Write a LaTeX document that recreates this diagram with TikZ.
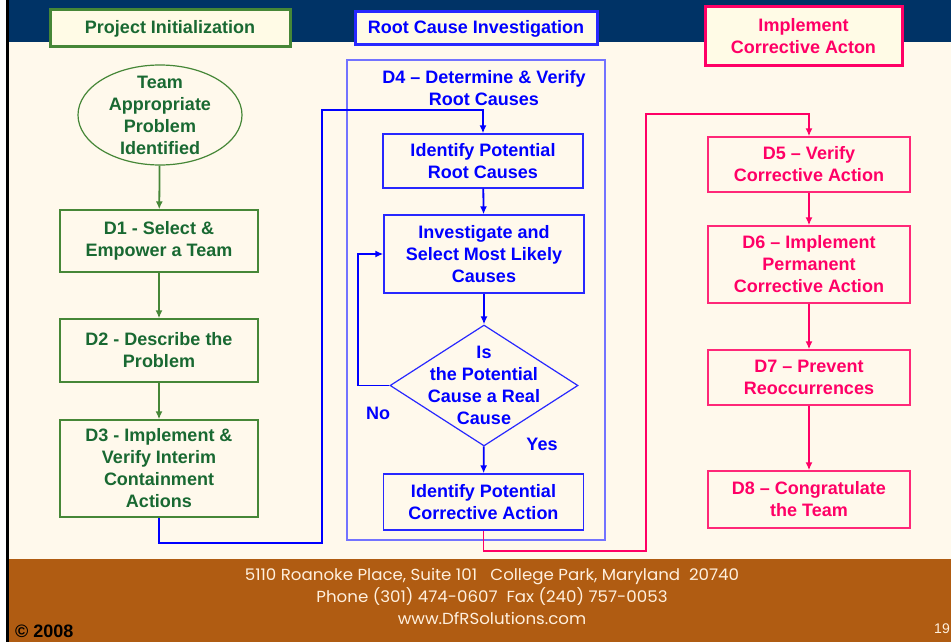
\documentclass[tikz,border=0pt]{standalone}
\usepackage{fontspec}
\setmainfont{Liberation Sans}
\newfontfamily\footfont[FakeStretch=1.04]{Poppins}
\usetikzlibrary{shapes.geometric}
\usetikzlibrary{arrows.meta}
\definecolor{navy}{RGB}{0,51,102}
\definecolor{cream}{RGB}{255,249,236}
\definecolor{rust}{RGB}{176,92,18}
\definecolor{hdrfill}{RGB}{255,251,230}
\definecolor{grline}{RGB}{70,135,55}
\definecolor{grtext}{RGB}{25,105,50}
\definecolor{blline}{RGB}{40,40,255}
\definecolor{bltext}{RGB}{0,0,255}
\definecolor{pkline}{RGB}{255,40,120}
\definecolor{pktext}{RGB}{255,0,102}
\definecolor{foottext}{RGB}{255,240,222}
\tikzset{flowtext/.style={font=\bfseries\fontsize{18}{22}\selectfont,align=center,inner sep=0pt}}
\tikzset{header/.style={draw=#1,line width=3pt,fill=hdrfill,flowtext}}
\tikzset{flowbox/.style={draw=#1,line width=1.3pt,flowtext}}
\tikzset{flowarrow/.style={draw=#1,line width=1.8pt,-{Latex[length=8pt,width=7pt]}}}

\begin{document}
\begin{tikzpicture}[x=1pt,y=-1pt,
                    greenbox/.style={flowbox=grline,text=grtext,minimum width=198,minimum height=#1},
                    bluebox/.style={flowbox=blline,text=bltext,minimum width=200,minimum height=#1},
                    pinkbox/.style={flowbox=pkline,text=pktext,minimum width=202,minimum height=#1}]

		% Fundo da pagina
		\useasboundingbox (0,0) rectangle (951,642);
		\fill [white] (0,0) rectangle (951,642);
		\fill [cream] (6,0) rectangle (951,642);
		\fill [navy] (6,0) rectangle (951,42);
		\fill [rust] (6,559) rectangle (951,642);
		\draw [black,line width=3pt] (7.5,0) -- (7.5,642);

		% Cabecalhos das colunas
		\node [header=grline,text=grtext,minimum width=240,minimum height=37] (hdrInit) at (170,28.5) {Project Initialization};
		\node [header=blline,text=bltext,minimum width=242,minimum height=33] (hdrRoot) at (476,28.5) {Root Cause Investigation};
		\node [header=pktext,text=pktext,minimum width=197,minimum height=59] (hdrAct) at (803.5,36.5) {Implement\\Corrective Acton};

		% Coluna verde
		\node [ellipse,draw=grline,line width=1.2pt,minimum width=164,minimum height=100,
		       label={[flowtext,text=grtext]center:Team\\Appropriate\\Problem\\Identified}] (team) at (160,115) {};
		\node [greenbox=62] (d1) at (159,241) {D1 - Select \&\\Empower a Team};
		\node [greenbox=63] (d2) at (159,350.5) {D2 - Describe the\\Problem};
		\node [greenbox=97] (d3) at (159,468.5) {D3 - Implement \&\\Verify Interim\\Containment\\Actions};

		\draw [flowarrow=grline] (team) -- (d1);
		\draw [flowarrow=grline] (d1) -- (d2);
		\draw [flowarrow=grline] (d2) -- (d3);

		% Coluna azul
		\draw [blline!65,line width=1.3pt] (347,60) rectangle (605,540);
		\node [flowtext,text=bltext] (d4) at (484,88) {D4 – Determine \& Verify\\Root Causes};
		\node [bluebox=54] (idRoot) at (483,161) {Identify Potential\\Root Causes};
		\node [bluebox=78] (invest) at (484,254) {Investigate and\\Select Most Likely\\Causes};
		\node [diamond,draw=blline,line width=1.2pt,minimum width=188,minimum height=121,inner sep=0pt,
		       label={[flowtext,text=bltext]center:Is\\the Potential\\Cause a Real\\Cause}] (decide) at (484,385.5) {};
		\node [bluebox=56] (idCorr) at (483.5,502) {Identify Potential\\Corrective Action};
		\node [flowtext,text=bltext] (noLbl) at (378,413) {No};
		\node [flowtext,text=bltext] (yesLbl) at (542,444) {Yes};

		\draw [flowarrow=bltext] (idRoot) -- (invest);
		\draw [flowarrow=bltext] (invest) -- (decide);
		\draw [flowarrow=bltext] (decide) -- (idCorr);

		% Volta do "No"
		\coordinate (noLoop) at (358,385.5);
		\draw [flowarrow=bltext] (decide.west) -- (noLoop) |- (invest.west);

		% Ligacao D3 -> D4
		\coordinate (jumpA) at (322,543);
		\coordinate (jumpB) at (322,110);
		\draw [flowarrow=bltext] (d3.south) |- (jumpA) -- (jumpB) -| (idRoot.north);

		% Coluna rosa
		\node [pinkbox=55] (d5) at (809,164.5) {D5 – Verify\\Corrective Action};
		\node [pinkbox=77] (d6) at (809,264.5) {D6 – Implement\\Permanent\\Corrective Action};
		\node [pinkbox=55] (d7) at (809,377.5) {D7 – Prevent\\Reoccurrences};
		\node [pinkbox=57] (d8) at (809,499.5) {D8 – Congratulate\\the Team};

		\draw [flowarrow=pktext] (d5) -- (d6);
		\draw [flowarrow=pktext] (d6) -- (d7);
		\draw [flowarrow=pktext] (d7) -- (d8);

		% Ligacao D4 -> D5
		\coordinate (jumpC) at (646,551);
		\coordinate (jumpD) at (646,114);
		\draw [flowarrow=pktext] (idCorr.south) |- (jumpC) -- (jumpD) -| (d5.north);

		% Rodape
		\node [font=\footfont\fontsize{16}{22}\selectfont,text=foottext,align=center] (addr) at (492,596)
			{5110 Roanoke Place, Suite 101\ \ \ College Park, Maryland\ \ 20740\\Phone (301) 474-0607\ \ Fax (240) 757-0053\\www.DfRSolutions.com};
		\node [font=\bfseries\fontsize{18}{20}\selectfont,anchor=west,inner sep=0pt] (copyr) at (15,631) {© 2008};
		\node [font=\fontsize{14}{16}\selectfont,text=foottext,anchor=east,inner sep=0pt] (pageNo) at (950,629) {19};

	\end{tikzpicture}
\end{document}
